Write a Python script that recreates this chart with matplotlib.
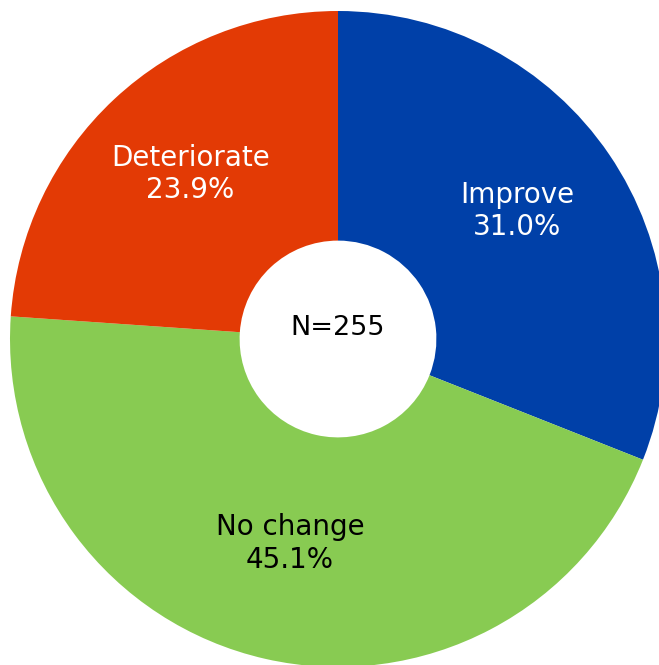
import matplotlib
matplotlib.use("Agg")
import matplotlib.pyplot as plt

categories = ["Improve", "No change", "Deteriorate"]
values = [31.0, 45.1, 23.9]
colors = ["#0040A8", "#88CB52", "#E33A05"]
text_colors = ["white", "black", "white"]
center_label = "N=255"

W, H = 659, 665
fig = plt.figure(figsize=(W / 100, H / 100), dpi=100)
cx, cy, r = 338, 665 - 339, 328
ax = fig.add_axes([(cx - r) / W, (cy - r) / H, 2 * r / W, 2 * r / H])

wedges, texts = ax.pie(values, colors=colors, startangle=90, counterclock=False,
                       radius=1.0, wedgeprops=dict(width=0.7, linewidth=0),
                       labels=[f"{c}\n{v:.1f}%" for c, v in zip(categories, values)],
                       labeldistance=0.66,
                       textprops=dict(fontsize=20, ha="center", va="center",
                                      linespacing=1.2))
for t, c in zip(texts, text_colors):
    t.set_color(c)
    t.set_horizontalalignment("center")
    x, y = t.get_position()
    t.set_position((x, y + 0.02))

ax.text(0, 0.034, center_label, ha="center", va="center", fontsize=19.5, color="black")
ax.set_xlim(-1, 1)
ax.set_ylim(-1, 1)
ax.set_aspect("auto")
ax.axis("off")
fig.savefig("out.png", dpi=100)
